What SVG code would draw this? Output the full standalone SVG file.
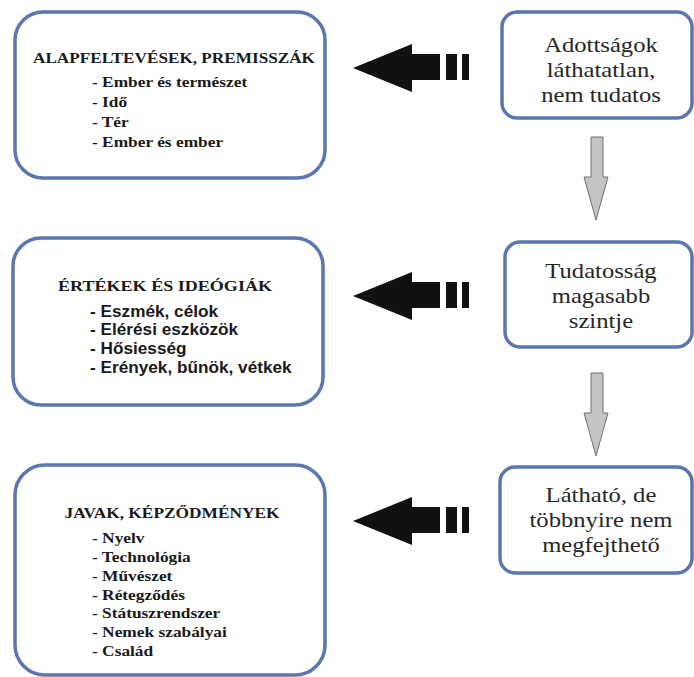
<svg xmlns="http://www.w3.org/2000/svg" width="694" height="677" viewBox="0 0 694 677">
<style>
.box{fill:#fff;stroke:#5b76b0;stroke-width:3.5}
.title{font-family:"Liberation Serif","Times New Roman",serif;font-weight:bold;font-size:15px;fill:#1a1a1a;text-anchor:middle}
.item{font-family:"Liberation Serif","Times New Roman",serif;font-weight:bold;font-size:15.5px;fill:#1a1a1a}
.items{font-family:"Liberation Sans",Arial,sans-serif;font-weight:bold;font-size:16px;fill:#1a1a1a}
.rt{font-family:"Liberation Serif","Times New Roman",serif;font-size:22px;fill:#262626;text-anchor:middle}
.blk{fill:#111}
.gray{fill:#c4c4c4;stroke:#707070;stroke-width:1}
</style>
<defs>
<g id="blackArrow">
<polygon class="blk" points="353,68 412,44 412,54 440,54 440,80 412,80 412,92"/>
<rect class="blk" x="446" y="54" width="11" height="26"/>
<rect class="blk" x="462" y="54" width="7" height="26"/>
</g>
<polygon id="grayArrow" class="gray" points="591,137 603,137 603,177 608,177 596,220 584,177 591,177"/>
</defs>
<g id="connectors">
<use href="#blackArrow"/>
<use href="#blackArrow" transform="translate(0,228)"/>
<use href="#blackArrow" transform="translate(0,453)"/>
<use href="#grayArrow"/>
<use href="#grayArrow" transform="translate(0,236)"/>
</g>
<g id="alapfeltevesek">
<rect class="box" x="15" y="12" width="310" height="166" rx="28"/>
<text class="title" x="174" y="63" textLength="282" lengthAdjust="spacingAndGlyphs">ALAPFELTEVÉSEK, PREMISSZÁK</text>
<g transform="matrix(1.12,0,0,1,-11.04,0)">
<text class="item" x="92" y="87">- Ember és természet</text>
<text class="item" x="92" y="107">- Idő</text>
<text class="item" x="92" y="127">- Tér</text>
<text class="item" x="92" y="147">- Ember és ember</text>
</g>
</g>
<g id="ertekek">
<rect class="box" x="13" y="238" width="310" height="167" rx="28"/>
<text class="title" x="165" y="291" textLength="214" lengthAdjust="spacingAndGlyphs">ÉRTÉKEK ÉS IDEÓGIÁK</text>
<g transform="matrix(1.075,0,0,1,-6.75,0)">
<text class="items" x="90" y="317">- Eszmék, célok</text>
<text class="items" x="90" y="335">- Elérési eszközök</text>
<text class="items" x="90" y="354">- Hősiesség</text>
<text class="items" x="90" y="373">- Erények, bűnök, vétkek</text>
</g>
</g>
<g id="javak">
<rect class="box" x="15" y="465" width="310" height="210" rx="30"/>
<text class="title" x="172" y="518" textLength="215" lengthAdjust="spacingAndGlyphs">JAVAK, KÉPZŐDMÉNYEK</text>
<g transform="matrix(1.12,0,0,1,-11.04,0)">
<text class="item" x="92" y="543">- Nyelv</text>
<text class="item" x="92" y="562">- Technológia</text>
<text class="item" x="92" y="581">- Művészet</text>
<text class="item" x="92" y="600">- Rétegződés</text>
<text class="item" x="92" y="618">- Státuszrendszer</text>
<text class="item" x="92" y="637">- Nemek szabályai</text>
<text class="item" x="92" y="656">- Család</text>
</g>
</g>
<g id="adottsagok">
<rect class="box" x="502" y="12" width="190" height="106" rx="15"/>
<g transform="matrix(1.12,0,0,1,-72.12,0)">
<text class="rt" x="601" y="52">Adottságok</text>
<text class="rt" x="601" y="77">láthatatlan,</text>
<text class="rt" x="601" y="102">nem tudatos</text>
</g>
</g>
<g id="tudatossag">
<rect class="box" x="505" y="242" width="187" height="105" rx="15"/>
<g transform="matrix(1.12,0,0,1,-72.12,0)">
<text class="rt" x="601" y="278">Tudatosság</text>
<text class="rt" x="601" y="303">magasabb</text>
<text class="rt" x="601" y="328">szintje</text>
</g>
</g>
<g id="lathato">
<rect class="box" x="500" y="467" width="192" height="106" rx="15"/>
<g transform="matrix(1.12,0,0,1,-72.12,0)">
<text class="rt" x="601" y="502">Látható, de</text>
<text class="rt" x="601" y="527">többnyire nem</text>
<text class="rt" x="601" y="552">megfejthető</text>
</g>
</g>
</svg>
